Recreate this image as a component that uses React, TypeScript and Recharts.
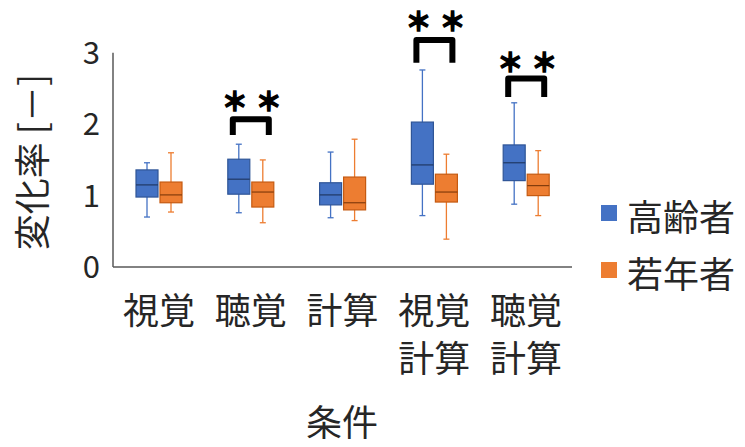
import {
  ComposedChart,
  Bar,
  XAxis,
  YAxis,
  Legend,
  ReferenceLine,
} from 'recharts'

const categories = ['視覚', '聴覚', '計算', '視覚\n計算', '聴覚\n計算']
const seriesNames = ['高齢者', '若年者']

// 高齢者 (blue)
const elderMin = [0.7, 0.76, 0.69, 0.72, 0.88]
const elderQ1 = [0.98, 1.02, 0.87, 1.16, 1.21]
const elderMed = [1.15, 1.23, 1.01, 1.43, 1.46]
const elderQ3 = [1.36, 1.51, 1.18, 2.03, 1.71]
const elderMax = [1.46, 1.72, 1.61, 2.76, 2.3]

// 若年者 (orange)
const youngMin = [0.77, 0.62, 0.65, 0.39, 0.72]
const youngQ1 = [0.9, 0.84, 0.8, 0.91, 1.0]
const youngMed = [1.01, 1.05, 0.9, 1.05, 1.14]
const youngQ3 = [1.19, 1.19, 1.26, 1.3, 1.3]
const youngMax = [1.6, 1.5, 1.79, 1.58, 1.63]

// significance brackets (＊＊)
const sigBottom = [null, 1.85, null, 2.86, 2.38]
const sigTop = [null, 2.07, null, 3.18, 2.64]
const sigStar = [null, 2.34, null, 3.46, 2.89]

const yTicks = [0, 1, 2, 3]

const FONT = '"Noto Sans CJK JP", "Noto Sans", sans-serif'

const data = categories.map((name, i) => ({
  name,
  e: [elderMin[i], elderQ1[i], elderMed[i], elderQ3[i], elderMax[i]],
  y: [youngMin[i], youngQ1[i], youngMed[i], youngQ3[i], youngMax[i]],
  sig: sigTop[i] == null ? null : [sigBottom[i], sigTop[i], sigStar[i]],
}))

function makeBox(key: 'e' | 'y', fill: string, stroke: string, median: string) {
  return (props: any) => {
    const { x, y, width, height, payload } = props
    const [lo, q1, med, q3, hi] = payload[key] as number[]
    const px = (v: number) => y + (height * (hi - v)) / (hi - lo)
    const cx = x + width / 2
    return (
      <g>
        <line x1={cx} x2={cx} y1={px(hi)} y2={px(lo)} stroke={fill} strokeWidth={1.3} />
        <line x1={cx - 3} x2={cx + 3} y1={px(hi)} y2={px(hi)} stroke={fill} strokeWidth={1.3} />
        <line x1={cx - 3} x2={cx + 3} y1={px(lo)} y2={px(lo)} stroke={fill} strokeWidth={1.3} />
        <rect x={x} y={px(q3)} width={width} height={px(q1) - px(q3)} fill={fill} stroke={stroke} strokeWidth={1.2} />
        <line x1={x} x2={x + width} y1={px(med)} y2={px(med)} stroke={median} strokeWidth={1.2} />
      </g>
    )
  }
}

function Bracket(props: any) {
  const { x, y, width, height, payload } = props
  if (!payload.sig) return null
  const [lo, top, star] = payload.sig as number[]
  const ppv = height / (top - lo)
  const sy = y - (star - top) * ppv
  const cx = x + width / 2
  return (
    <g>
      <path
        d={`M${x},${y + height} L${x},${y} L${x + width},${y} L${x + width},${y + height}`}
        fill="none"
        stroke="#000"
        strokeWidth={6}
        strokeLinejoin="round"
      />
      {[-16, 18].map((dx) => (
        <text
          key={dx}
          x={cx + dx}
          y={sy}
          textAnchor="middle"
          dominantBaseline="central"
          fontSize={26}
          fontWeight={700}
          fontFamily={FONT}
          fill="#000"
          stroke="#000"
          strokeWidth={1.6}
        >
          ＊
        </text>
      ))}
    </g>
  )
}

function CategoryTick(props: any) {
  const { x, y, payload } = props
  const lines = String(payload.value).split('\n')
  return (
    <g>
      {lines.map((t, i) => (
        <text key={i} x={x} y={y + 57 + i * 48} textAnchor="middle" fontSize={36} fontFamily={FONT} fill="#262626">
          {t}
        </text>
      ))}
    </g>
  )
}

function LegendBox({ payload }: any) {
  const items = seriesNames
    .map((n) => (payload || []).find((p: any) => p.value === n))
    .filter(Boolean)
  return (
    <div style={{ fontFamily: FONT }}>
      {items.map((p: any) => (
        <div key={p.value} style={{ display: 'flex', alignItems: 'center', height: 57 }}>
          <span style={{ width: 16, height: 16, background: p.color, marginRight: 10, marginTop: -6 }} />
          <span style={{ fontSize: 36, color: '#262626', lineHeight: '57px' }}>{p.value}</span>
        </div>
      ))}
    </div>
  )
}

export default function App() {
  return (
    <div style={{ position: 'absolute', left: 0, top: 0, background: '#fff' }}>
      <ComposedChart
        width={745}
        height={447}
        data={data}
        margin={{ top: 10, right: 173, bottom: 30, left: 53 }}
        barGap={2}
      >
        <XAxis
          dataKey="name"
          height={150}
          tick={<CategoryTick />}
          tickLine={false}
          tickSize={0}
          tickMargin={0}
          interval={0}
          axisLine={{ stroke: '#595959', strokeWidth: 1.5 }}
          label={{
            content: () => (
              <text x={342} y={436} textAnchor="middle" fontSize={36} fontFamily={FONT} fill="#262626">
                条件
              </text>
            ),
          }}
        />
        <XAxis xAxisId="br" dataKey="name" hide />
        <YAxis
          width={60}
          domain={[0, 3.6]}
          ticks={yTicks}
          axisLine={false}
          tickLine={false}
          tickSize={10}
          tickMargin={3}
          tick={{ fontSize: 31, fill: '#262626', fontFamily: FONT }}
          label={{
            content: () => (
              <text
                transform="translate(30,162) rotate(-90)"
                textAnchor="middle"
                dominantBaseline="central"
                fontSize={36}
                fontFamily={FONT}
                fill="#262626"
              >
                変化率 [－]
              </text>
            ),
          }}
        />
        <ReferenceLine
          segment={[
            { x: categories[0], y: 0 },
            { x: categories[0], y: 3 },
          ]}
          position="start"
          stroke="#595959"
          strokeWidth={1.5}
        />
        <Legend
          layout="vertical"
          align="center"
          verticalAlign="middle"
          content={<LegendBox />}
          wrapperStyle={{ left: 601, top: 187, width: 144 }}
        />
        <Bar
          name={seriesNames[0]}
          dataKey={(d: any) => [d.e[0], d.e[4]]}
          fill="#4472C4"
          barSize={22}
          shape={makeBox('e', '#4472C4', '#2F5597', '#203864')}
          isAnimationActive={false}
        />
        <Bar
          name={seriesNames[1]}
          dataKey={(d: any) => [d.y[0], d.y[4]]}
          fill="#ED7D31"
          barSize={22}
          shape={makeBox('y', '#ED7D31', '#C55A11', '#843C0C')}
          isAnimationActive={false}
        />
        <Bar
          xAxisId="br"
          name="sig"
          legendType="none"
          dataKey={(d: any) => (d.sig ? [d.sig[0], d.sig[1]] : null)}
          barSize={36}
          shape={<Bracket />}
          isAnimationActive={false}
        />
      </ComposedChart>
    </div>
  )
}
